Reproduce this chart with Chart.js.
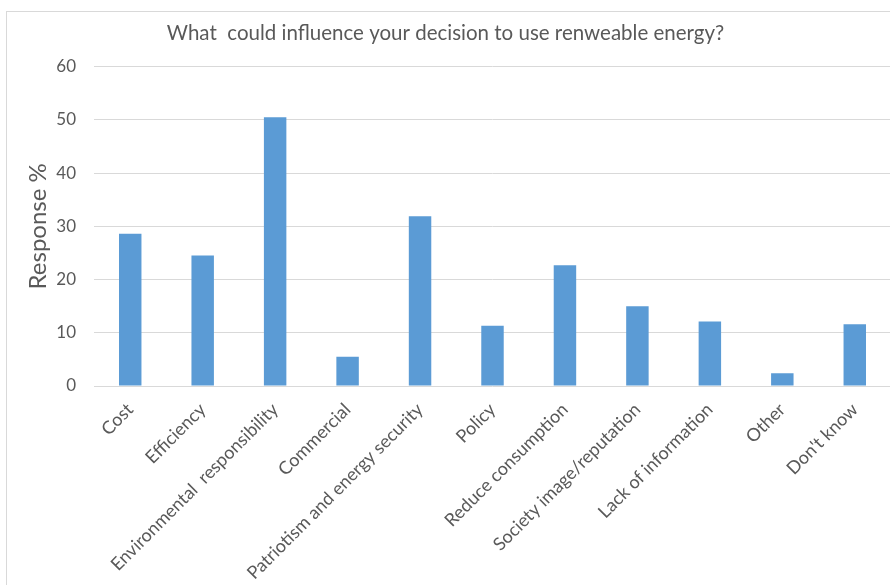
<!DOCTYPE html>
<html>
<head>
<meta charset="utf-8">
<script src="https://cdn.jsdelivr.net/npm/chart.js@4/dist/chart.umd.min.js"></script>
<style>
  html, body { margin: 0; padding: 0; background: #fff; overflow: hidden; }
  #frame {
    position: absolute; left: 6px; top: 11px; width: 900px; height: 600px;
    border-left: 1px solid #d9d9d9; border-top: 1px solid #d9d9d9;
  }
  #wrap { position: absolute; left: 0; top: 0; width: 894px; height: 585px; }
</style>
</head>
<body>
<div id="frame"></div>
<div id="wrap"><canvas id="influenceChart"></canvas></div>
<script>
const categories = [
  'Cost', 'Efficiency', 'Environmental  responsibility', 'Commercial',
  'Patriotism and energy security', 'Policy', 'Reduce consumption',
  'Society image/reputation', 'Lack of information', 'Other', "Don't know"
];
const responsePct = [28.6, 24.5, 50.5, 5.5, 31.9, 11.3, 22.7, 15.0, 12.1, 2.4, 11.6];
const yMin = 0;
const yMax = 60;
const yStep = 10;

const textColor = '#595959';
const fontFamily = 'Lato, "Open Sans", sans-serif';

const ctx = document.getElementById('influenceChart').getContext('2d');

new Chart(ctx, {
  type: 'bar',
  data: {
    labels: categories,
    datasets: [{
      label: 'Response %',
      data: responsePct,
      backgroundColor: '#5b9bd5',
      borderWidth: 0,
      categoryPercentage: 1.0,
      barPercentage: 0.31,
    }],
  },
  options: {
    responsive: true,
    maintainAspectRatio: false,
    animation: false,
    layout: { padding: { left: 0, right: 3, top: 0, bottom: 0 } },
    plugins: {
      legend: { display: false },
      tooltip: { enabled: false },
      title: {
        display: true,
        text: 'What  could influence your decision to use renweable energy?',
        color: textColor,
        font: { family: fontFamily, size: 20.5, weight: 'normal' },
        padding: { top: 21, bottom: 21 },
      },
    },
    scales: {
      x: {
        grid: { display: false },
        border: { display: false },
        ticks: {
          color: textColor,
          font: { family: fontFamily, size: 18 },
          minRotation: 45,
          maxRotation: 45,
          autoSkip: false,
          padding: 5,
        },
        afterFit: (scale) => { scale.height = 199; },
      },
      y: {
        min: yMin,
        max: yMax,
        grid: { color: '#d9d9d9', drawTicks: false },
        border: { display: false },
        ticks: {
          stepSize: yStep,
          color: textColor,
          font: { family: fontFamily, size: 17 },
          padding: 18,
        },
        title: {
          display: true,
          text: 'Response %',
          color: textColor,
          font: { family: fontFamily, size: 24 },
          padding: { top: 24, bottom: 0 },
        },
        afterFit: (scale) => { scale.width = 94; },
      },
    },
  },
});
</script>
</body>
</html>
